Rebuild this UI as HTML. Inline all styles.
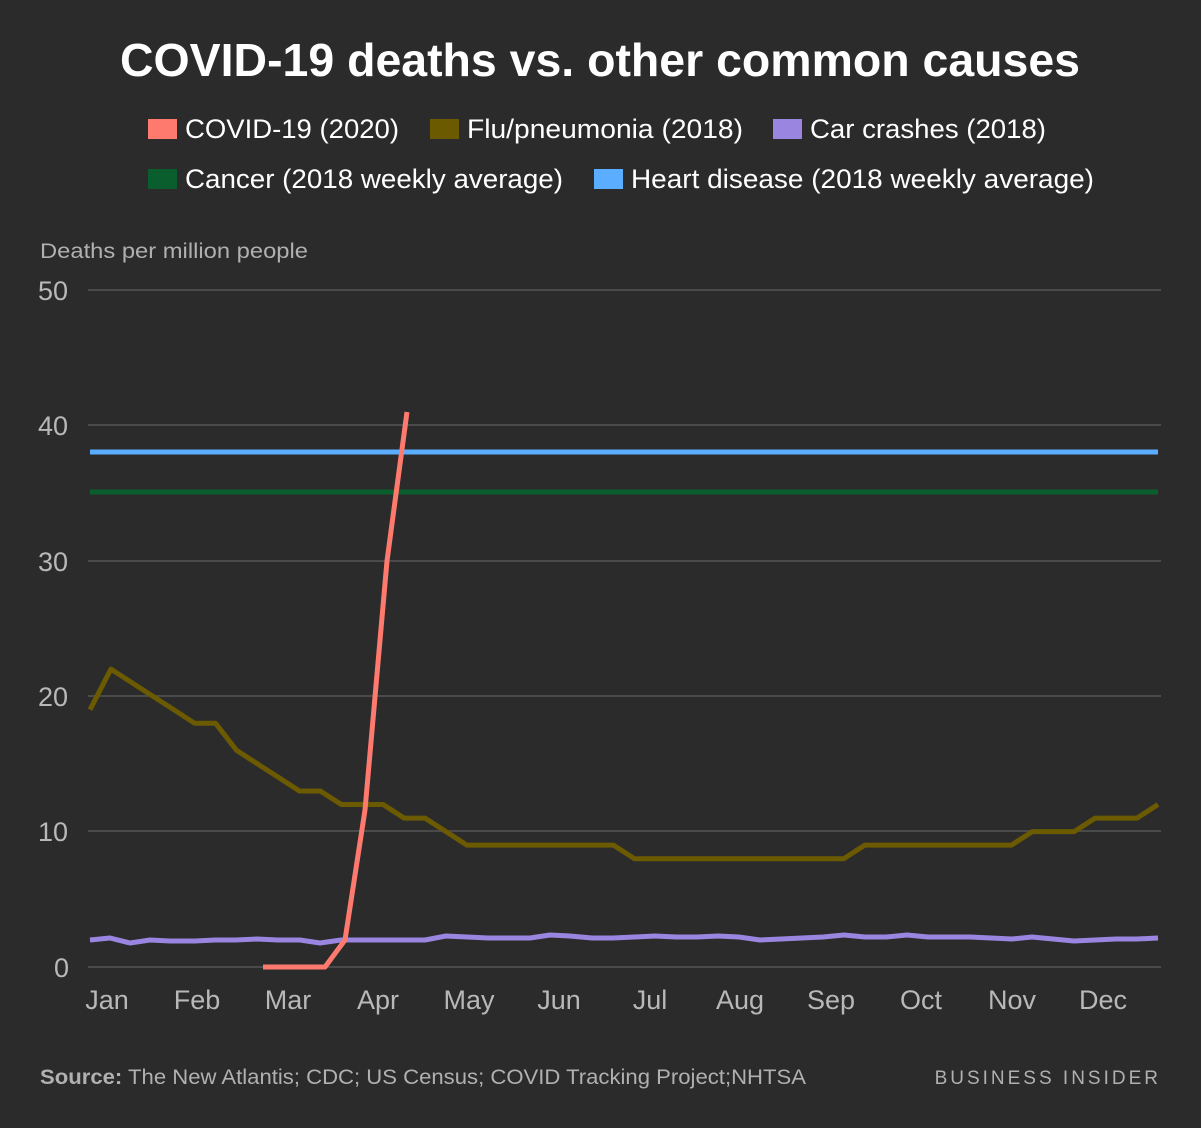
<!DOCTYPE html>
<html><head><meta charset="utf-8"><style>
body{margin:0;background:#2b2b2b;width:1201px;height:1123px;overflow:hidden;font-family:"Liberation Sans",sans-serif}
</style></head><body>
<svg width="1201" height="1123" xmlns="http://www.w3.org/2000/svg" font-family="Liberation Sans, sans-serif">
<rect width="1201" height="1123" fill="#2b2b2b"/>
<text x="600" y="76" text-anchor="middle" fill="#fff" font-size="46" font-weight="bold" textLength="960" lengthAdjust="spacingAndGlyphs">COVID-19 deaths vs. other common causes</text>
<g font-size="27" fill="#fff">
<rect x="148" y="119" width="29" height="20" fill="#ff7a6e"/><text x="185" y="138" textLength="214" lengthAdjust="spacingAndGlyphs">COVID-19 (2020)</text>
<rect x="430" y="119" width="29" height="20" fill="#6b5a00"/><text x="467" y="138" textLength="276" lengthAdjust="spacingAndGlyphs">Flu/pneumonia (2018)</text>
<rect x="773" y="119" width="29" height="20" fill="#9a86e0"/><text x="810" y="138" textLength="236" lengthAdjust="spacingAndGlyphs">Car crashes (2018)</text>
<rect x="148" y="169" width="29" height="20" fill="#0a5e2e"/><text x="185" y="188" textLength="378" lengthAdjust="spacingAndGlyphs">Cancer (2018 weekly average)</text>
<rect x="594" y="169" width="29" height="20" fill="#5aadff"/><text x="631" y="188" textLength="463" lengthAdjust="spacingAndGlyphs">Heart disease (2018 weekly average)</text>
</g>
<text x="40" y="258" fill="#b0b0b0" font-size="21" textLength="268" lengthAdjust="spacingAndGlyphs">Deaths per million people</text>
<g stroke="#4a4a4a" stroke-width="2">
<line x1="88" y1="290" x2="1161" y2="290"/><line x1="88" y1="425" x2="1161" y2="425"/>
<line x1="88" y1="561" x2="1161" y2="561"/><line x1="88" y1="696" x2="1161" y2="696"/>
<line x1="88" y1="831" x2="1161" y2="831"/><line x1="88" y1="967" x2="1161" y2="967"/>
</g>
<g fill="#b8b8b8" font-size="27">
<text x="38" y="300">50</text><text x="38" y="435">40</text><text x="38" y="571">30</text>
<text x="38" y="706">20</text><text x="38" y="841">10</text><text x="54" y="977">0</text>
</g>
<g fill="#b8b8b8" font-size="27" text-anchor="middle">
<text x="107" y="1009">Jan</text><text x="197" y="1009">Feb</text><text x="288" y="1009">Mar</text>
<text x="378" y="1009">Apr</text><text x="469" y="1009">May</text><text x="559" y="1009">Jun</text>
<text x="650" y="1009">Jul</text><text x="740" y="1009">Aug</text><text x="831" y="1009">Sep</text>
<text x="921" y="1009">Oct</text><text x="1012" y="1009">Nov</text><text x="1103" y="1009">Dec</text>
</g>
<line x1="90" y1="452" x2="1158" y2="452" stroke="#5aadff" stroke-width="5"/>
<line x1="90" y1="492" x2="1158" y2="492" stroke="#0a5e2e" stroke-width="5"/>
<polyline fill="none" stroke="#6b5a00" stroke-width="5" stroke-linejoin="round" points="90,709.7 110.9,669.1 131.9,682.7 152.8,696.2 173.8,709.7 194.7,723.3 215.6,723.3 236.6,750.4 257.5,763.9 278.5,777.4 299.4,791 320.3,791 341.3,804.5 362.2,804.5 383.2,804.5 404.1,818.1 425,818.1 446,831.6 466.9,845.1 613.5,845.1 634.4,858.7 843.8,858.7 864.8,845.1 1011.4,845.1 1032.3,831.6 1074.2,831.6 1095.1,818.1 1137,818.1 1158,804.5"/>
<polyline fill="none" stroke="#9a86e0" stroke-width="5" stroke-linejoin="round" points="90,940 110,938 130,943 150,940 170,941 195,941 215,940 235,940 257,939 278,940 300,940 320,943 341,940 362,940 383,940 404,940 425,940 446,936 467,937 488,938 510,938 530,938 550,935 570,936 592,938 613,938 634,937 655,936 676,937 697,937 718,936 739,937 760,940 781,939 802,938 823,937 844,935 865,937 886,937 907,935 928,937 949,937 970,937 991,938 1012,939 1032,937 1053,939 1074,941 1095,940 1116,939 1137,939 1158,938"/>
<polyline fill="none" stroke="#ff7a6e" stroke-width="5" stroke-linejoin="round" points="263,967 325,967 345,940 365,810 387,561 407,412"/>
<text x="40" y="1084" fill="#b0b0b0" font-size="21" textLength="766" lengthAdjust="spacingAndGlyphs"><tspan font-weight="bold">Source:</tspan> The New Atlantis; CDC; US Census; COVID Tracking Project;NHTSA</text>
<text x="1161" y="1084" text-anchor="end" fill="#b0b0b0" font-size="19" letter-spacing="3">BUSINESS INSIDER</text>
</svg>
</body></html>
